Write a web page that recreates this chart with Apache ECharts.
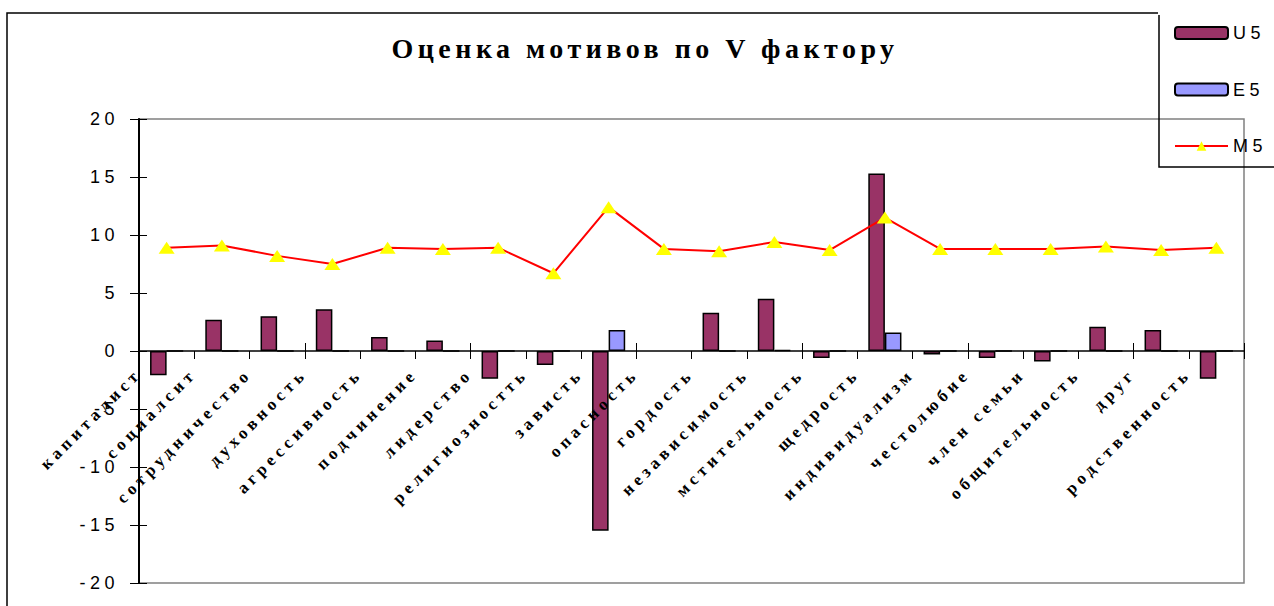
<!DOCTYPE html>
<html>
<head>
<meta charset="utf-8">
<script src="https://cdn.jsdelivr.net/npm/echarts@6/dist/echarts.min.js"></script>
<style>
  html, body { margin: 0; padding: 0; background: #fff; }
  #chart { width: 1274px; height: 606px; }
  /* the original picture has wide letter spacing on every text */
  #chart text { letter-spacing: 4.5px; }
</style>
</head>
<body>
<div id="chart"></div>
<script>
// категории (мотивы)
const categories = [
  "капиталист", "социалсит", "сотрудничество", "духовность", "агрессивность",
  "подчинение", "лидерство", "религиозностть", "зависть", "опасность",
  "гордость", "независимость", "мстительность", "щедрость", "индивидуализм",
  "честолюбие", "член семьи", "общительность", "друг", "родственность"
];
const u5 = [-2.1, 2.7, 3.0, 3.6, 1.2, 0.9, -2.4, -1.2, -15.5, null, 3.3, 4.5, -0.6, 15.3, -0.3, -0.6, -0.9, 2.1, 1.8, -2.4];
const e5 = [0, 0, 0, 0, 0, 0, 0, 0, 1.8, null, 0, 0.1, 0, 1.6, 0, 0, 0, 0, 0, 0];
const m5 = [8.9, 9.1, 8.2, 7.5, 8.9, 8.8, 8.9, 6.7, 12.4, 8.8, 8.6, 9.4, 8.7, 11.5, 8.8, 8.8, 8.8, 9.0, 8.7, 8.9];
const yMin = -20;
const yMax = 20;
const yStep = 5;

const myChart = echarts.init(document.getElementById("chart"), null, { renderer: "svg" });

const serif = "'Liberation Serif', 'Times New Roman', serif";
const sans = "'Liberation Sans', Arial, sans-serif";

const options = {
  animation: false,
  backgroundColor: "#fff",
  title: {
    text: "Оценка мотивов по V фактору",
    left: 640,
    textAlign: "center",
    top: 29,
    textStyle: { fontFamily: serif, fontWeight: "bold", fontSize: 28, color: "#000" },
  },
  legend: {
    orient: "vertical",
    left: 1174,
    top: 24,
    padding: 0,
    itemWidth: 53,
    itemHeight: 12,
    itemGap: 38.5,
    textStyle: { fontFamily: sans, fontSize: 18, color: "#000" },
    data: ["U5", "E5", "M5"],
  },
  graphic: [
    {
      type: "polyline",
      z: 0,
      shape: { points: [[1158, 13], [7, 13], [7, 620]] },
      style: { stroke: "#000", lineWidth: 1.5, fill: null },
    },
    {
      type: "polyline",
      z: 0,
      shape: { points: [[1159, 15], [1159, 167], [1290, 167]] },
      style: { stroke: "#000", lineWidth: 1.5, fill: null },
    },
  ],
  grid: {
    left: 139,
    right: 30,
    top: 119,
    bottom: 23,
    outerBoundsMode: "none",
    containLabel: false,
    show: true,
    z: -1,
    borderColor: "#808080",
    borderWidth: 1.5,
  },
  xAxis: [
    {
      type: "category",
      data: categories,
      z: 3,
      axisLine: { onZero: true, lineStyle: { color: "#000", width: 1.5 } },
      axisTick: { show: true, length: 8, lineStyle: { color: "#000", width: 1 } },
      axisLabel: {
        interval: 0,
        rotate: 45,
        // labels stay at the grid bottom, pull them up under the zero line
        margin: -240,
        padding: [0, 40, 0, 0],
        fontFamily: serif,
        fontWeight: "bold",
        fontSize: 17,
        color: "#000",
      },
      splitLine: { show: false },
    },
    {
      // inner half of the crossing ticks
      type: "category",
      data: categories,
      position: "bottom",
      z: 3,
      axisLine: { show: false, onZero: true },
      axisTick: { show: true, inside: true, length: 8, lineStyle: { color: "#000", width: 1 } },
      axisLabel: { show: false },
      splitLine: { show: false },
    },
  ],
  yAxis: [
    {
      type: "value",
      min: yMin,
      max: yMax,
      interval: yStep,
      z: 3,
      axisLine: { show: true, lineStyle: { color: "#000", width: 2 } },
      axisTick: { show: true, length: 9, lineStyle: { color: "#000", width: 1 } },
      axisLabel: { margin: 20, fontFamily: sans, fontSize: 18, color: "#000" },
      splitLine: { show: false },
    },
    {
      type: "value",
      min: yMin,
      max: yMax,
      interval: yStep,
      position: "left",
      z: 3,
      axisLine: { show: false },
      axisTick: { show: true, inside: true, length: 8, lineStyle: { color: "#000", width: 1 } },
      axisLabel: { show: false },
      splitLine: { show: false },
    },
  ],
  series: [
    {
      name: "U5",
      type: "bar",
      data: u5,
      barGap: "0%",
      barCategoryGap: "40%",
      itemStyle: { color: "#993366", borderColor: "#000", borderWidth: 1.5 },
    },
    {
      name: "E5",
      type: "bar",
      data: e5,
      itemStyle: { color: "#9999FF", borderColor: "#000", borderWidth: 1.5 },
    },
    {
      name: "M5",
      type: "line",
      data: m5,
      z: 5,
      symbol: "triangle",
      symbolSize: [16, 12],
      showAllSymbol: true,
      itemStyle: { color: "#FFFF00" },
      lineStyle: { color: "#FF0000", width: 2 },
    },
  ],
};
options && myChart.setOption(options);
</script>
</body>
</html>
